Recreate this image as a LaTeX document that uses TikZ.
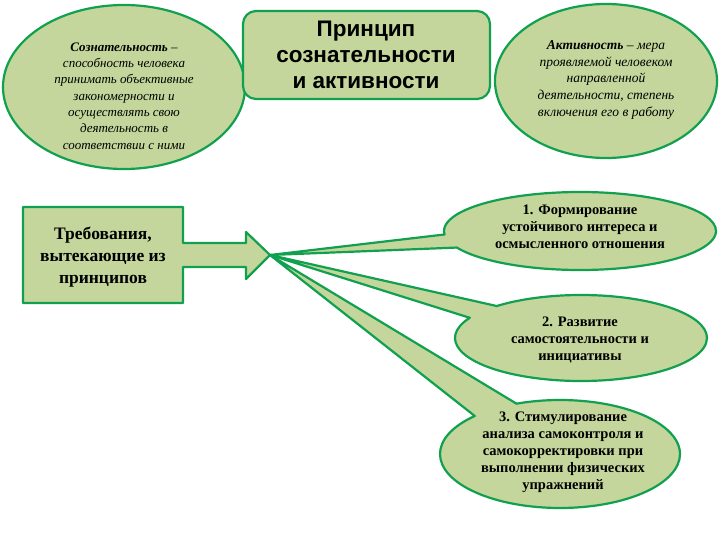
\documentclass[tikz,border=0pt]{standalone}
\usepackage{fontspec}
\setmainfont{Liberation Serif}
\newfontfamily\titlefont{Liberation Sans}
\usetikzlibrary{shapes.geometric,shapes.callouts}
\definecolor{fillg}{RGB}{196,214,155}
\definecolor{edgeg}{RGB}{16,160,80}
\tikzset{
  shp/.style={draw=edgeg, fill=fillg, line width=2.2pt, line join=round},
  oval/.style={shp, ellipse, inner sep=0pt},
  bubble/.style={shp, ellipse callout, inner sep=0pt, callout pointer arc=20},
  deftxt/.style={font=\itshape\fontsize{13}{16.3}\selectfont, align=center, text=black, inner sep=0pt},
  bubtxt/.style={font=\bfseries\fontsize{14.5}{17}\selectfont, align=center, text=black, inner sep=0pt},
}
\begin{document}
\begin{tikzpicture}[x=1pt,y=-1pt]
\useasboundingbox (0,0) rectangle (720,540);
% top ellipses
\node[oval, minimum width=242pt, minimum height=164pt] (consc) at (124,87) {};
\node[oval, minimum width=222pt, minimum height=154pt] (activ) at (606,81) {};
% title box
\node[shp, rounded corners=13pt, minimum width=247pt, minimum height=88pt, inner sep=0pt] (title) at (366.5,55) {};
\node[font=\titlefont\bfseries\fontsize{22.5}{26}\selectfont, align=center, inner sep=0pt] (titletxt) at (366,55) {Принцип\\сознательности\\и активности};
\node[deftxt] (consctxt) at (124,96) {\textbf{Сознательность} –\\способность человека\\принимать объективные\\закономерности и\\осуществлять свою\\деятельность в\\соответствии с ними};
\node[deftxt, font=\itshape\fontsize{13.5}{16.8}\selectfont] (activtxt) at (606,80) {\textbf{Активность} – мера\\проявляемой человеком\\направленной\\деятельности, степень\\включения его в работу};
% requirements block arrow
\coordinate (tip) at (270,255);
\draw[shp] (23,207) -- (183,207) -- (183,243) -- (246,243) -- (246,232) -- (tip)
  -- (246,279) -- (246,267) -- (183,267) -- (183,303) -- (23,303) -- cycle;
\node[font=\bfseries\fontsize{17.5}{22}\selectfont, align=center, inner sep=0pt] (req) at (103,257) {Требования,\\вытекающие из\\принципов};
% callouts
\node[bubble, minimum width=272pt, minimum height=78pt, callout absolute pointer={(tip)}] (b1) at (580,231) {};
\node[bubtxt] (b1txt) at (580,227) {1. Формирование\\устойчивого интереса и\\осмысленного отношения};
\node[bubble, minimum width=252pt, minimum height=86pt, callout absolute pointer={(tip)}] (b2) at (581,338) {};
\node[bubtxt] (b2txt) at (580,340) {2. Развитие\\самостоятельности и\\инициативы};
\node[bubble, callout pointer arc=24, minimum width=240pt, minimum height=108pt, callout absolute pointer={(tip)}] (b3) at (560,454) {};
\node[bubtxt] (b3txt) at (563,452) {3. Стимулирование\\анализа самоконтроля и\\самокорректировки при\\выполнении физических\\упражнений};
\end{tikzpicture}
\end{document}
